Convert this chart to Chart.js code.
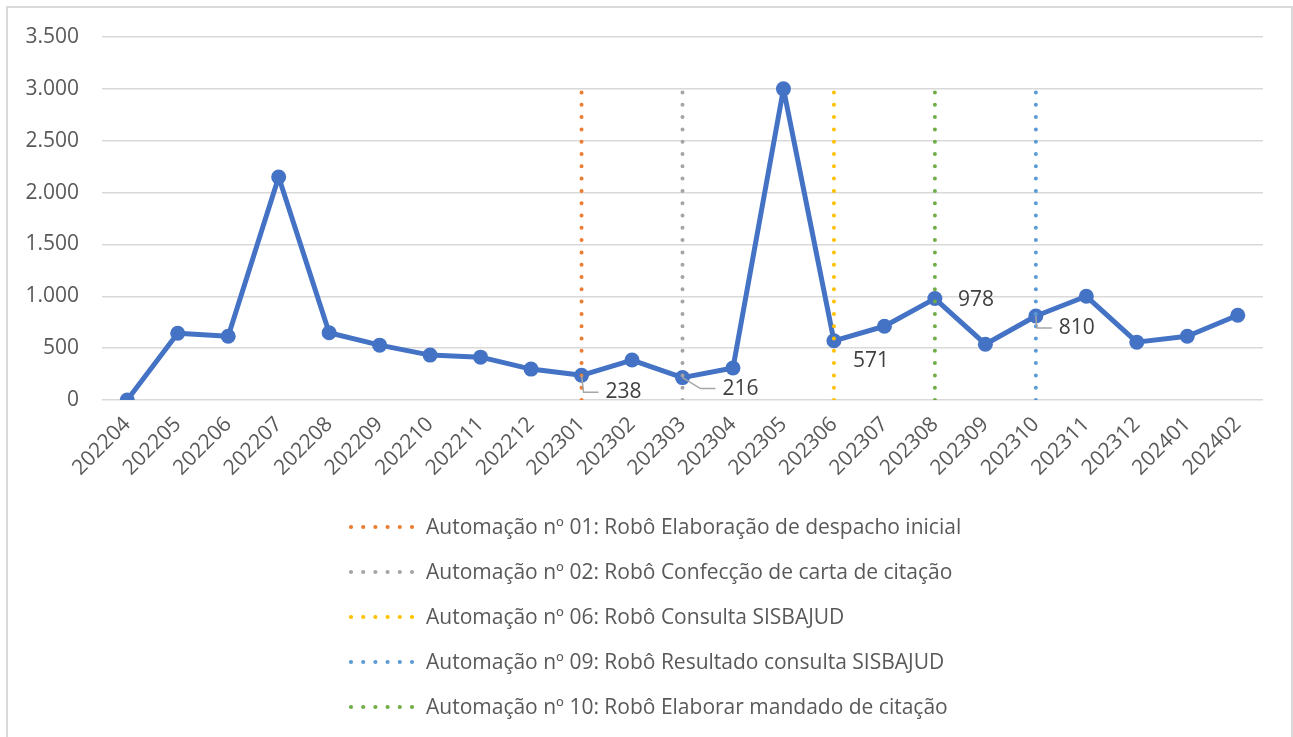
<!DOCTYPE html>
<html>
<head>
<meta charset="utf-8">
<script src="https://cdn.jsdelivr.net/npm/chart.js@4.4.1/dist/chart.umd.min.js"></script>
<style>
  html, body { margin: 0; padding: 0; background: #fff; overflow: hidden; }
  #chart { display: block; }
</style>
</head>
<body>
<canvas id="chart" width="1293" height="737"></canvas>
<script>
// -------- Data --------
const months = ["202204","202205","202206","202207","202208","202209","202210","202211","202212",
  "202301","202302","202303","202304","202305","202306","202307","202308","202309","202310",
  "202311","202312","202401","202402"];
const volumes = [0, 644, 615, 2150, 648, 529, 433, 413, 298, 238, 385, 216, 308, 3000, 571, 711, 978, 538, 810, 1000, 558, 615, 817];
const labelledMonths = ["202301","202303","202306","202308","202310"];

const automationNames = [
  "Automação nº 01: Robô Elaboração de despacho inicial",
  "Automação nº 02: Robô Confecção de carta de citação",
  "Automação nº 06: Robô Consulta SISBAJUD",
  "Automação nº 09: Robô Resultado consulta SISBAJUD",
  "Automação nº 10: Robô Elaborar mandado de citação"
];
const automationMonths = ["202301","202303","202306","202310","202308"];
const automationTop = 3000;
const automationColors = ["#ED7D31","#A5A5A5","#FFC000","#5B9BD5","#70AD47"];

const yTicks = { min: 0, max: 3500, step: 500 };

const FONT = "'Open Sans', Lato, sans-serif";
const FSIZE = 21;
const fmt = v => String(v).replace(/\B(?=(\d{3})+(?!\d))/g, ".");

// -------- Plugins --------
const frame = {
  id: "frame",
  beforeDraw(chart){
    const c = chart.ctx;
    c.save();
    c.strokeStyle = "#D9D9D9";
    c.lineWidth = 2;
    c.strokeRect(7, 7, chart.width - 8, chart.height + 20);
    c.restore();
  }
};

// offsets of the value labels from their point, and whether a leader line is drawn
const labelPlace = {
  "202301": { dx: 24, dy: 17, leader: true },
  "202303": { dx: 40, dy: 11, leader: true },
  "202306": { dx: 19, dy: 20, leader: false },
  "202308": { dx: 23, dy: 1, leader: false },
  "202310": { dx: 23, dy: 12, leader: true }
};
const valueLabels = {
  id: "valueLabels",
  afterDatasetsDraw(chart){
    const c = chart.ctx;
    const meta = chart.getDatasetMeta(0);
    c.save();
    c.font = FSIZE + "px " + FONT;
    c.textBaseline = "middle";
    c.textAlign = "left";
    labelledMonths.forEach(m => {
      const i = months.indexOf(m);
      const p = meta.data[i];
      const o = labelPlace[m];
      const tx = p.x + o.dx, ty = p.y + o.dy;
      if (o.leader) {
        c.strokeStyle = "#A6A6A6";
        c.lineWidth = 1.5;
        c.beginPath();
        c.moveTo(p.x, p.y);
        c.lineTo(Math.max(p.x, tx - 22), ty);
        c.lineTo(tx - 7, ty);
        c.stroke();
      }
      c.fillStyle = "#404040";
      c.fillText(fmt(volumes[i]), tx, ty);
    });
    c.restore();
  }
};

const dotLegend = {
  id: "dotLegend",
  afterDraw(chart){
    const c = chart.ctx;
    c.save();
    c.font = FSIZE + "px " + FONT;
    const textW = Math.max(...automationNames.map(t => c.measureText(t).width));
    const left = Math.round((chart.width - (75 + textW)) / 2) + 10;
    automationNames.forEach((name, k) => {
      const y = 527 + k * 45;
      c.strokeStyle = automationColors[k];
      c.lineWidth = 4.2;
      c.lineCap = "round";
      c.setLineDash([0, 12.2]);
      c.beginPath();
      c.moveTo(left, y);
      c.lineTo(left + 62, y);
      c.stroke();
      c.setLineDash([]);
      c.fillStyle = "#595959";
      c.textBaseline = "middle";
      c.textAlign = "left";
      c.fillText(name, left + 75, y + 1);
    });
    c.restore();
  }
};

// -------- Chart --------
const datasets = [{
  label: "Volume",
  data: volumes,
  borderColor: "#4472C4",
  backgroundColor: "#4472C4",
  borderWidth: 5,
  borderJoinStyle: "round",
  pointRadius: 7.5,
  pointBorderWidth: 0,
  pointBackgroundColor: "#4472C4",
  tension: 0,
  order: 2
}];
automationNames.forEach((name, k) => {
  datasets.push({
    label: name,
    data: [{ x: automationMonths[k], y: 0 }, { x: automationMonths[k], y: automationTop }],
    borderColor: automationColors[k],
    borderWidth: 4,
    borderDash: [0, 12.3],
    borderCapStyle: "round",
    pointRadius: 0,
    fill: false,
    order: 1
  });
});

new Chart(document.getElementById("chart"), {
  type: "line",
  data: { labels: months, datasets },
  plugins: [frame, valueLabels, dotLegend],
  options: {
    responsive: false,
    animation: false,
    devicePixelRatio: 1,
    layout: { padding: { left: 0, right: 30, top: 37, bottom: 0 } },
    plugins: { legend: { display: false }, tooltip: { enabled: false } },
    scales: {
      x: {
        offset: true,
        grid: { display: false },
        border: { display: false },
        ticks: {
          color: "#595959",
          font: { family: FONT, size: FSIZE },
          minRotation: 45,
          maxRotation: 45,
          autoSkip: false,
          padding: 4
        },
        afterFit(scale){ scale.height = 337; }
      },
      y: {
        min: yTicks.min,
        max: yTicks.max,
        grid: { color: "#D9D9D9", lineWidth: 1.5, drawTicks: false },
        border: { display: false },
        ticks: {
          stepSize: yTicks.step,
          color: "#595959",
          font: { family: FONT, size: FSIZE },
          padding: 23,
          callback: v => fmt(v)
        },
        afterFit(scale){ scale.width = 102; }
      }
    }
  }
});
</script>
</body>
</html>
